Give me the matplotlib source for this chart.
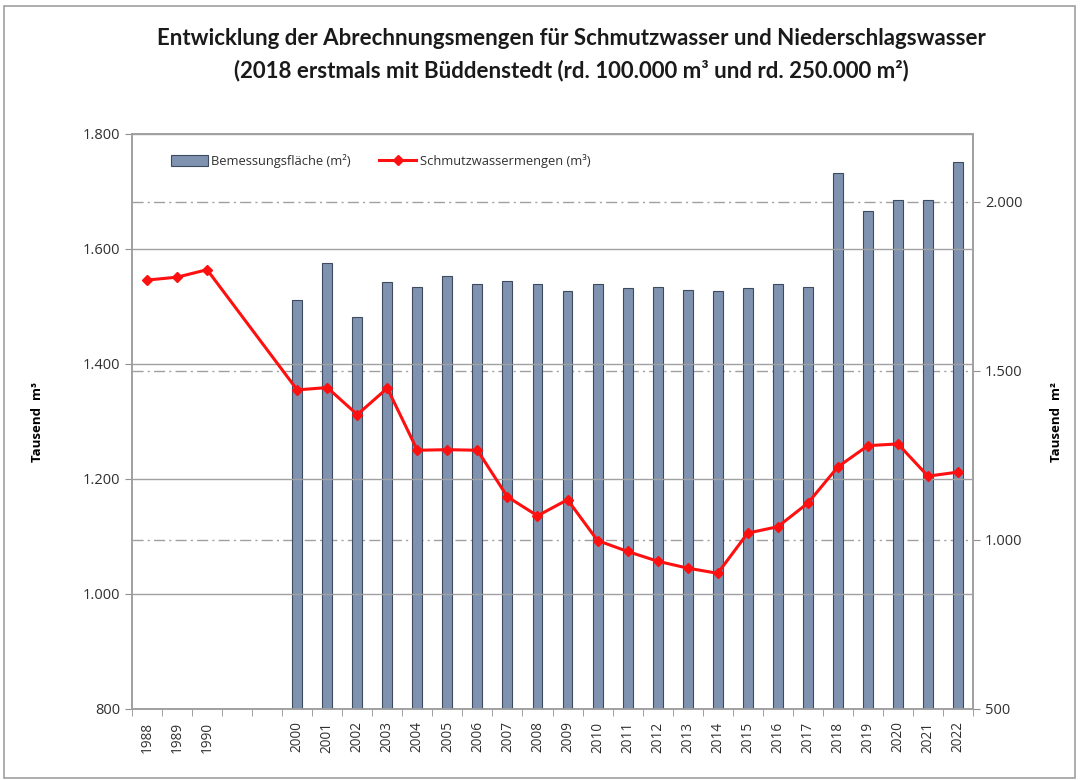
import numpy as np
import matplotlib
matplotlib.use("Agg")
import matplotlib.pyplot as plt
from matplotlib import font_manager
from matplotlib.patches import Rectangle
from matplotlib.lines import Line2D
from matplotlib.ticker import FuncFormatter, FixedLocator

names = {f.name for f in font_manager.fontManager.ttflist}
title_font = 'Lato' if 'Lato' in names else 'DejaVu Sans'
title_size = 16
plt.rcParams['font.family'] = ['Open Sans', 'DejaVu Sans']

categories = ['1988', '1989', '1990', '', '', '2000', '2001', '2002', '2003', '2004',
              '2005', '2006', '2007', '2008', '2009', '2010', '2011', '2012', '2013',
              '2014', '2015', '2016', '2017', '2018', '2019', '2020', '2021', '2022']
nan = np.nan
schmutzwasser = [1546, 1551, 1564, nan, nan, 1355, 1359, 1312, 1358, 1250,
                 1251, 1250, 1169, 1136, 1164, 1093, 1074, 1057, 1045,
                 1036, 1106, 1117, 1158, 1221, 1258, 1261, 1205, 1212]
bemessungsflaeche = [nan, nan, nan, nan, nan, 1710, 1819, 1658, 1763, 1747,
                     1781, 1756, 1766, 1756, 1736, 1758, 1744, 1747, 1740,
                     1736, 1744, 1758, 1747, 2086, 1972, 2006, 2004, 2116]

fig = plt.figure(figsize=(10.8, 7.8), dpi=100)
fig.patches.append(Rectangle((4/1080, 2/780), 1071/1080, 772/780, transform=fig.transFigure,
                             fill=False, edgecolor='#a0a0a0', linewidth=1.2))

axL = fig.add_axes([132/1080, 1-709/780, 841/1080, 575/780])
axR = axL.twinx()
axL.set_zorder(axR.get_zorder() + 1)
axL.patch.set_visible(False)

x = np.arange(len(categories))
bar_vals = np.array(bemessungsflaeche, dtype=float)
line_vals = np.array(schmutzwasser, dtype=float)

axR.bar(x, np.where(np.isnan(bar_vals), 0, bar_vals - 500), bottom=500, width=0.33,
        color='#7f93b0', edgecolor='#3e4a5e', linewidth=0.8, zorder=3)
m = ~np.isnan(line_vals)
axL.plot(x[m], line_vals[m], color='#ff1010', linewidth=2.2, marker='D', markersize=5,
         zorder=4)

axL.set_xlim(-0.5, len(categories) - 0.5)
axL.set_ylim(800, 1800)
axR.set_ylim(500, 2200)

de = FuncFormatter(lambda v, p: f"{v:,.0f}".replace(',', '.'))
axL.yaxis.set_major_locator(FixedLocator([800, 1000, 1200, 1400, 1600, 1800]))
axR.yaxis.set_major_locator(FixedLocator([500, 1000, 1500, 2000]))
axL.yaxis.set_major_formatter(de)
axR.yaxis.set_major_formatter(de)

axL.set_xticks(x)
axL.set_xticklabels(categories, rotation=90, fontsize=9.8, color='#303030')
axL.set_xticks(np.arange(len(categories) + 1) - 0.5, minor=True)
axL.tick_params(axis='x', which='major', length=0, pad=9)
axL.tick_params(axis='x', which='minor', length=5, color='#909090', direction='out')
axL.tick_params(axis='y', labelsize=10.5, labelcolor='#303030', color='#909090', length=5)
axR.tick_params(axis='y', labelsize=10.5, labelcolor='#303030', color='#909090', length=5)

for ax in (axL, axR):
    for s in ax.spines.values():
        s.set_color('#a0a0a0')
        s.set_linewidth(1.2)

axL.grid(axis='y', color='#a0a0a0', linewidth=1.0, linestyle='-')
axL.set_axisbelow(True)
axR.grid(axis='y', color='#a0a0a0', linewidth=1.0, linestyle=(0, (8, 3, 1.5, 3)))
axR.set_axisbelow(True)

axL.set_ylabel('Tausend  m³', fontsize=9.5, fontweight='bold', labelpad=28)
axR.set_ylabel('Tausend  m²', fontsize=9.5, fontweight='bold', labelpad=20)

handles = [Rectangle((0, 0), 1, 1, facecolor='#7f93b0', edgecolor='#3e4a5e', linewidth=0.8),
           Line2D([], [], color='#ff1010', linewidth=2.2, marker='D', markersize=5)]
axL.legend(handles, ['Bemessungsfläche (m²)', 'Schmutzwassermengen (m³)'],
           loc='upper left', bbox_to_anchor=(0.033, 0.985), ncol=2, frameon=False,
           fontsize=9.3, handlelength=2.8, handleheight=0.9, columnspacing=2.2,
           handletextpad=0.3, labelcolor='#303030')

fig.text(0.529, 0.951, 'Entwicklung der Abrechnungsmengen für Schmutzwasser und Niederschlagswasser',
         ha='center', va='center', fontsize=title_size, fontweight='bold', family=title_font,
         color='#1a1a1a')
fig.text(0.529, 0.910, '(2018 erstmals mit Büddenstedt (rd. 100.000 m³ und rd. 250.000 m²)',
         ha='center', va='center', fontsize=title_size, fontweight='bold', family=title_font,
         color='#1a1a1a')

fig.savefig('out.png', dpi=100)
